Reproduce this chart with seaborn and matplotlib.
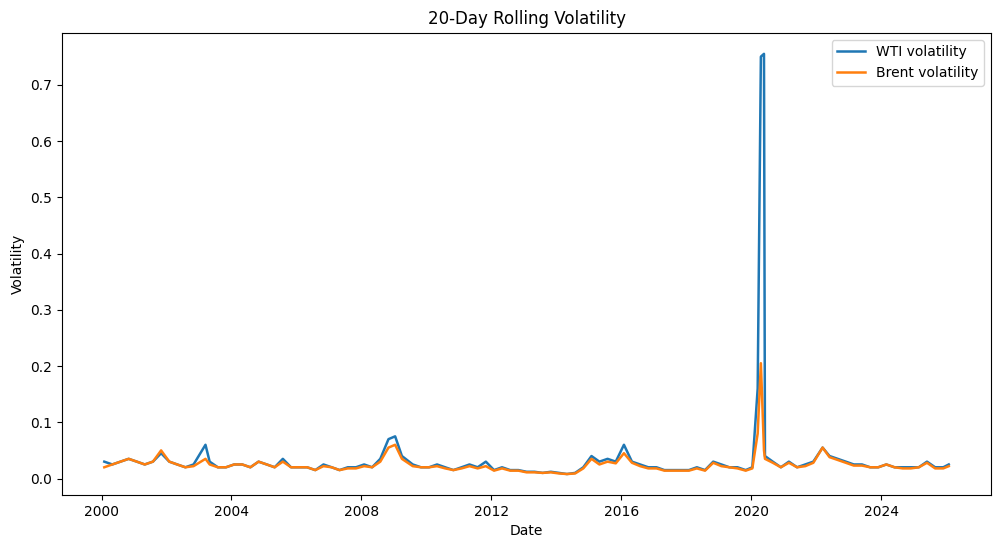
import pandas as pd
import numpy as np
import matplotlib
matplotlib.use("Agg")
import matplotlib.pyplot as plt
import seaborn as sns

dates = ["2000-02-01","2000-05-01","2000-08-01","2000-11-01",
"2001-02-01","2001-05-01","2001-08-01","2001-11-01",
"2002-02-01","2002-05-01","2002-08-01","2002-11-01",
"2003-03-15","2003-05-01","2003-08-01","2003-11-01",
"2004-02-01","2004-05-01","2004-08-01","2004-11-01",
"2005-02-01","2005-05-01","2005-08-01","2005-11-01",
"2006-02-01","2006-05-01","2006-08-01","2006-11-01",
"2007-02-01","2007-05-01","2007-08-01","2007-11-01",
"2008-02-01","2008-05-01","2008-08-01","2008-11-01",
"2009-01-15","2009-04-01","2009-08-01","2009-11-01",
"2010-02-01","2010-05-01","2010-08-01","2010-11-01",
"2011-02-01","2011-05-01","2011-08-01","2011-11-01",
"2012-02-01","2012-05-01","2012-08-01","2012-11-01",
"2013-02-01","2013-05-01","2013-08-01","2013-11-01",
"2014-02-01","2014-05-01","2014-08-01","2014-11-01",
"2015-02-01","2015-05-01","2015-08-01","2015-11-01",
"2016-02-01","2016-05-01","2016-08-01","2016-11-01",
"2017-02-01","2017-05-01","2017-08-01","2017-11-01",
"2018-02-01","2018-05-01","2018-08-01","2018-11-01",
"2019-02-01","2019-05-01","2019-08-01","2019-11-01",
"2020-01-15","2020-03-15","2020-04-20","2020-05-25","2020-06-05","2020-09-01","2020-12-01",
"2021-03-01","2021-06-01","2021-09-01","2021-12-01",
"2022-03-15","2022-06-01","2022-09-01","2022-12-01",
"2023-03-01","2023-06-01","2023-09-01","2023-12-01",
"2024-03-01","2024-06-01","2024-09-01","2024-12-01",
"2025-03-01","2025-06-01","2025-09-01","2025-12-01",
"2026-02-01"]

wti = [0.03,0.025,0.03,0.035, 0.03,0.025,0.03,0.045, 0.03,0.025,0.02,0.025,
0.06,0.03,0.02,0.02, 0.025,0.025,0.02,0.03, 0.025,0.02,0.035,0.02,
0.02,0.02,0.015,0.025, 0.02,0.015,0.02,0.02, 0.025,0.02,0.035,0.07,
0.075,0.04,0.025,0.02, 0.02,0.025,0.02,0.015, 0.02,0.025,0.02,0.03,
0.015,0.02,0.015,0.015, 0.012,0.012,0.01,0.012, 0.01,0.008,0.01,0.02,
0.04,0.03,0.035,0.03, 0.06,0.03,0.025,0.02, 0.02,0.015,0.015,0.015,
0.015,0.02,0.015,0.03, 0.025,0.02,0.02,0.015,
0.02,0.16,0.75,0.755,0.04,0.03,0.02,
0.03,0.02,0.025,0.03, 0.055,0.04,0.035,0.03, 0.025,0.025,0.02,0.02,
0.025,0.02,0.02,0.02, 0.02,0.03,0.02,0.02, 0.025]

brent = [0.02,0.025,0.03,0.035, 0.03,0.025,0.03,0.05, 0.03,0.025,0.02,0.022,
0.035,0.025,0.02,0.02, 0.025,0.025,0.02,0.03, 0.025,0.02,0.03,0.02,
0.02,0.02,0.015,0.022, 0.02,0.015,0.018,0.018, 0.022,0.02,0.03,0.055,
0.06,0.035,0.022,0.02, 0.02,0.022,0.018,0.015, 0.018,0.022,0.018,0.022,
0.014,0.018,0.014,0.014, 0.011,0.011,0.01,0.011, 0.009,0.008,0.009,0.018,
0.035,0.025,0.03,0.027, 0.045,0.028,0.022,0.018, 0.018,0.014,0.014,0.014,
0.014,0.018,0.014,0.028, 0.022,0.02,0.018,0.014,
0.018,0.08,0.205,0.05,0.035,0.028,0.02,
0.028,0.02,0.022,0.028, 0.055,0.038,0.033,0.028, 0.023,0.023,0.02,0.02,
0.025,0.02,0.018,0.018, 0.02,0.028,0.018,0.018, 0.022]

df = pd.DataFrame({"Date": pd.to_datetime(dates), "WTI volatility": wti, "Brent volatility": brent})

fig, ax = plt.subplots(figsize=(10.01, 5.47), dpi=100)
sns.lineplot(data=df, x="Date", y="WTI volatility", ax=ax, label="WTI volatility", color="#1f77b4", lw=1.8)
sns.lineplot(data=df, x="Date", y="Brent volatility", ax=ax, label="Brent volatility", color="#ff7f0e", lw=1.8)
ax.set_title("20-Day Rolling Volatility")
ax.set_xlabel("Date")
ax.set_ylabel("Volatility")
ax.legend(loc="upper right")
fig.subplots_adjust(left=0.062, right=0.99, top=0.94, bottom=0.095)
fig.savefig("out.png", dpi=100)
